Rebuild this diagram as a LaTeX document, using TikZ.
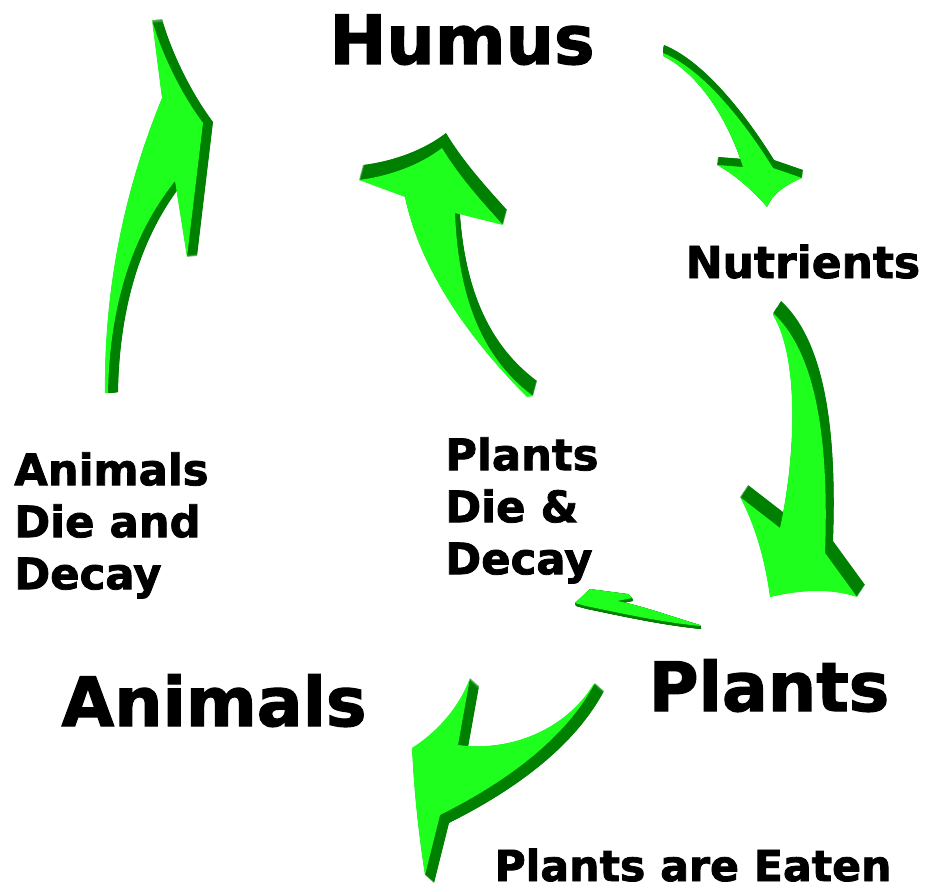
\documentclass[tikz,border=0pt]{standalone}
\usepackage{fontspec}
\setmainfont{DejaVu Sans}
\newfontfamily\heavyfont{DejaVu Sans}[UprightFont={* Bold}, FakeBold=1.8]
\definecolor{ltgreen}{RGB}{30,255,30}
\definecolor{dkgreen}{RGB}{0,128,0}
\newcommand\extrudearrow[3]{%
  \foreach \k in {1,...,30}{\fill[dkgreen, shift={({#2*\k/30},{#3*\k/30})}] #1;}%
  \fill[ltgreen] #1;}
\begin{document}
\begin{tikzpicture}[x=0.75pt,y=-0.75pt,
  bigtext/.style={font=\heavyfont\fontsize{51}{60}\selectfont, inner sep=0pt},
  smalltext/.style={font=\heavyfont\fontsize{32.5}{39}\selectfont, inner sep=0pt, align=left}]
\useasboundingbox (0,0) rectangle (933,892);

% Animals Die and Decay -> Humus
\extrudearrow{(105,393) .. controls (104,300) and (120,200) .. (162,98) -- (152,20) .. controls (162,55) and (182,95) .. (203,123) -- (187,257) -- (175,181) .. controls (140,225) and (110,290) .. (108,393) -- cycle}{10}{-1}

% Plants Die & Decay -> Humus
\extrudearrow{(527,397) .. controls (470,340) and (420,270) .. (405,197) -- (359,180) .. controls (390,176) and (420,165) .. (442,148) .. controls (460,178) and (485,205) .. (503,225) -- (455,213) .. controls (458,290) and (478,355) .. (533,396) -- cycle}{4}{-15}

% Humus -> Nutrients
\extrudearrow{(663,53) .. controls (700,68) and (740,115) .. (773,168) -- (802,178) .. controls (785,185) and (772,195) .. (767,207) .. controls (752,190) and (735,175) .. (717,165) -- (743,167) .. controls (728,120) and (700,75) .. (663,56) -- cycle}{1}{-8}

% Nutrients -> Plants
\extrudearrow{(773,313) .. controls (810,347) and (830,420) .. (825,553) -- (857,597) .. controls (830,588) and (800,590) .. (770,597) .. controls (765,560) and (755,525) .. (740,497) -- (780,528) .. controls (795,460) and (800,360) .. (773,315) -- cycle}{8}{-12}

% Plants -> Animals
\extrudearrow{(595,683) .. controls (570,730) and (520,775) .. (440,815) -- (425,875) .. controls (418,830) and (414,790) .. (412,748) .. controls (440,730) and (460,705) .. (470,678) -- (458,745) .. controls (510,752) and (565,730) .. (593,685) -- cycle}{9}{8}

% Plants -> Plants Die & Decay
\extrudearrow{(700,625) .. controls (670,616) and (640,605) .. (617,601) -- (632,598) -- (628,594) -- (590,589) -- (575,603) -- (586,606) .. controls (620,613) and (660,622) .. (700,626) -- cycle}{1}{3}

% Texts
\node[bigtext, anchor=base] (humus) at (462,64) {Humus};
\node[smalltext, anchor=base, font=\heavyfont\fontsize{33}{39}\selectfont] (nutrients) at (803,278) {Nutrients};
\node[bigtext, anchor=base] (plants) at (769,711) {Plants};
\node[bigtext, anchor=base] (animals) at (214,726) {Animals};
\node[smalltext, anchor=base, font=\heavyfont\fontsize{32}{39}\selectfont] (eaten) at (693,881) {Plants are Eaten};
\node[smalltext, anchor=north west] (adie) at (14,452) {Animals\\Die and\\Decay};
\node[smalltext, anchor=north west] (pdie) at (445,437) {Plants\\Die \&\\Decay};
\end{tikzpicture}
\end{document}
